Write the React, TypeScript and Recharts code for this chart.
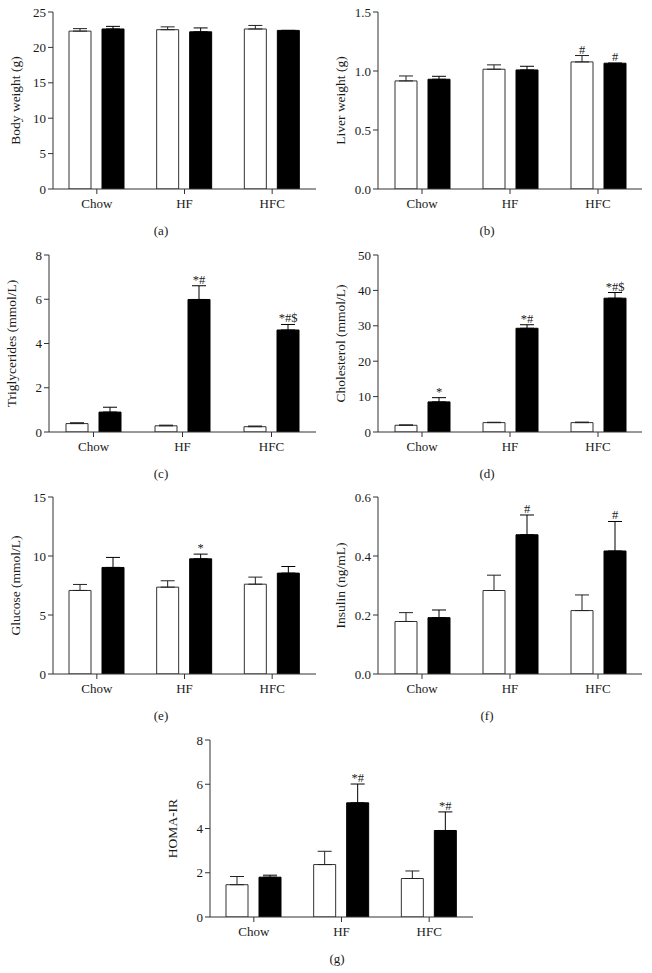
import { Bar, BarChart, ErrorBar, Label, LabelList, XAxis, YAxis } from "recharts";

const groups = ["Chow", "HF", "HFC"];

// (a) body weight
const bodyWhite = [22.3, 22.5, 22.6];
const bodyBlack = [22.6, 22.2, 22.4];
const bodyWhiteErr = [0.35, 0.4, 0.5];
const bodyBlackErr = [0.37, 0.55, 0];

// (b) liver weight
const liverWhite = [0.916, 1.015, 1.077];
const liverBlack = [0.93, 1.009, 1.066];
const liverWhiteErr = [0.042, 0.037, 0.054];
const liverBlackErr = [0.025, 0.031, 0];
const liverWhiteSig = ["", "", "#"];
const liverBlackSig = ["", "", "#"];

// (c) triglycerides
const trigWhite = [0.38, 0.28, 0.24];
const trigBlack = [0.9, 5.99, 4.61];
const trigWhiteErr = [0.04, 0.03, 0.03];
const trigBlackErr = [0.22, 0.62, 0.25];
const trigBlackSig = ["", "*#", "*#$"];

// (d) cholesterol
const cholWhite = [1.9, 2.65, 2.65];
const cholBlack = [8.5, 29.3, 37.8];
const cholWhiteErr = [0.1, 0.1, 0.15];
const cholBlackErr = [1.2, 1.0, 1.6];
const cholBlackSig = ["*", "*#", "*#$"];

// (e) glucose
const gluWhite = [7.08, 7.36, 7.61];
const gluBlack = [9.03, 9.76, 8.55];
const gluWhiteErr = [0.51, 0.54, 0.6];
const gluBlackErr = [0.85, 0.4, 0.56];
const gluBlackSig = ["", "*", ""];

// (f) insulin
const insWhite = [0.178, 0.283, 0.215];
const insBlack = [0.191, 0.472, 0.417];
const insWhiteErr = [0.03, 0.052, 0.053];
const insBlackErr = [0.026, 0.067, 0.1];
const insBlackSig = ["", "#", "#"];

// (g) HOMA-IR
const homaWhite = [1.46, 2.37, 1.74];
const homaBlack = [1.8, 5.16, 3.91];
const homaWhiteErr = [0.37, 0.6, 0.34];
const homaBlackErr = [0.09, 0.85, 0.84];
const homaBlackSig = ["", "*#", "*#"];

const FONT = "'Liberation Serif', 'DejaVu Serif', serif";
const INK = "#1a1a1a";

type PanelProps = {
  left: number;
  top: number;
  axisLeft?: number;
  yLabel: string;
  caption: string;
  captionX?: number;
  domain: [number, number];
  ticks: number[];
  digits?: number;
  white: number[];
  black: number[];
  whiteErr: number[];
  blackErr: number[];
  whiteSig?: string[];
  blackSig?: string[];
};

type Row = {
  group: string;
  white: number;
  black: number;
  we: [number, number];
  be: [number, number];
  ws: string;
  bs: string;
};

// puts the significance marks just above the top of the error whisker
const sigLabel = (rows: Row[], key: "white" | "black") => (props: any) => {
  const vb = props.viewBox ?? props;
  const { x, y, width, height } = vb;
  const row = rows[props.index];
  if (!row) return null;
  const text = key === "white" ? row.ws : row.bs;
  if (!text) return null;
  const v = row[key];
  const err = key === "white" ? row.we[1] : row.be[1];
  const px = v ? Math.abs(height) / v : 0;
  const top = Math.min(y, y + height) - err * px;
  return (
    <text x={x + width / 2} y={top - 2} textAnchor="middle" fontSize={12.5} fill={INK} fontFamily={FONT}>
      {text}
    </text>
  );
};

function Panel(p: PanelProps) {
  const axisLeft = p.axisLeft ?? 53;
  const rows: Row[] = groups.map((g, i) => ({
    group: g,
    white: p.white[i],
    black: p.black[i],
    we: [0, p.whiteErr[i]],
    be: [0, p.blackErr[i]],
    ws: p.whiteSig?.[i] ?? "",
    bs: p.blackSig?.[i] ?? "",
  }));
  const fmt = (v: number) => (p.digits ? v.toFixed(p.digits) : String(v));

  return (
    <div style={{ position: "absolute", left: p.left, top: p.top, width: 326, height: 240 }}>
      <BarChart
        width={326}
        height={225}
        data={rows}
        margin={{ top: 12, right: 10, left: axisLeft - 40, bottom: 6 }}
        barSize={22}
        barGap={11}
      >
        <XAxis
          dataKey="group"
          interval={0}
          height={30}
          tickSize={5}
          tickMargin={5}
          axisLine={{ stroke: "#333" }}
          tickLine={{ stroke: "#333" }}
          tick={{ fontSize: 13, fill: INK, fontFamily: FONT }}
        />
        <YAxis
          width={40}
          domain={p.domain}
          ticks={p.ticks}
          allowDataOverflow
          tickFormatter={fmt}
          tickSize={5}
          tickMargin={2}
          axisLine={{ stroke: "#333" }}
          tickLine={{ stroke: "#333" }}
          tick={{ fontSize: 13, fill: INK, fontFamily: FONT }}
        >
          <Label
            value={p.yLabel}
            angle={-90}
            position="insideLeft"
            offset={2}
            style={{ textAnchor: "middle", fontSize: 13.5, fill: INK, fontFamily: FONT }}
          />
        </YAxis>
        <Bar dataKey="white" fill="#fff" stroke="#333" strokeWidth={1} isAnimationActive={false}>
          <ErrorBar dataKey="we" width={7} stroke="#222" strokeWidth={1} />
          <LabelList dataKey="ws" content={sigLabel(rows, "white")} />
        </Bar>
        <Bar dataKey="black" fill="#000" stroke="#000" strokeWidth={1} isAnimationActive={false}>
          <ErrorBar dataKey="be" width={7} stroke="#000" strokeWidth={1} />
          <LabelList dataKey="bs" content={sigLabel(rows, "black")} />
        </Bar>
      </BarChart>
      <div
        style={{
          position: "absolute",
          top: 223,
          left: (p.captionX ?? 161) - 30,
          width: 60,
          textAlign: "center",
          fontSize: 13,
          lineHeight: "16px",
          color: INK,
          fontFamily: FONT,
        }}
      >
        {p.caption}
      </div>
    </div>
  );
}

export default function App() {
  return (
    <div style={{ position: "absolute", left: 0, top: 0, width: 652, height: 973, background: "#fff" }}>
      <Panel left={0} top={0} yLabel="Body weight (g)" caption="(a)" domain={[0, 25]} ticks={[0, 5, 10, 15, 20, 25]}
        white={bodyWhite} black={bodyBlack} whiteErr={bodyWhiteErr} blackErr={bodyBlackErr} />
      <Panel left={326} top={0} axisLeft={52} yLabel="Liver weight (g)" caption="(b)" domain={[0, 1.5]}
        ticks={[0, 0.5, 1, 1.5]} digits={1} white={liverWhite} black={liverBlack}
        whiteErr={liverWhiteErr} blackErr={liverBlackErr} whiteSig={liverWhiteSig} blackSig={liverBlackSig} />
      <Panel left={0} top={243} axisLeft={49} yLabel="Triglycerides (mmol/L)" caption="(c)" domain={[0, 8]}
        ticks={[0, 2, 4, 6, 8]} white={trigWhite} black={trigBlack} whiteErr={trigWhiteErr}
        blackErr={trigBlackErr} blackSig={trigBlackSig} />
      <Panel left={326} top={243} axisLeft={52} yLabel="Cholesterol (mmol/L)" caption="(d)" domain={[0, 50]}
        ticks={[0, 10, 20, 30, 40, 50]} white={cholWhite} black={cholBlack} whiteErr={cholWhiteErr}
        blackErr={cholBlackErr} blackSig={cholBlackSig} />
      <Panel left={0} top={485} yLabel="Glucose (mmol/L)" caption="(e)" domain={[0, 15]} ticks={[0, 5, 10, 15]}
        white={gluWhite} black={gluBlack} whiteErr={gluWhiteErr} blackErr={gluBlackErr} blackSig={gluBlackSig} />
      <Panel left={326} top={485} axisLeft={52} yLabel="Insulin (ng/mL)" caption="(f)" domain={[0, 0.6]}
        ticks={[0, 0.2, 0.4, 0.6]} digits={1} white={insWhite} black={insBlack} whiteErr={insWhiteErr}
        blackErr={insBlackErr} blackSig={insBlackSig} />
      <Panel left={157} top={728} yLabel="HOMA-IR" caption="(g)" captionX={180} domain={[0, 8]} ticks={[0, 2, 4, 6, 8]}
        white={homaWhite} black={homaBlack} whiteErr={homaWhiteErr} blackErr={homaBlackErr} blackSig={homaBlackSig} />
    </div>
  );
}
